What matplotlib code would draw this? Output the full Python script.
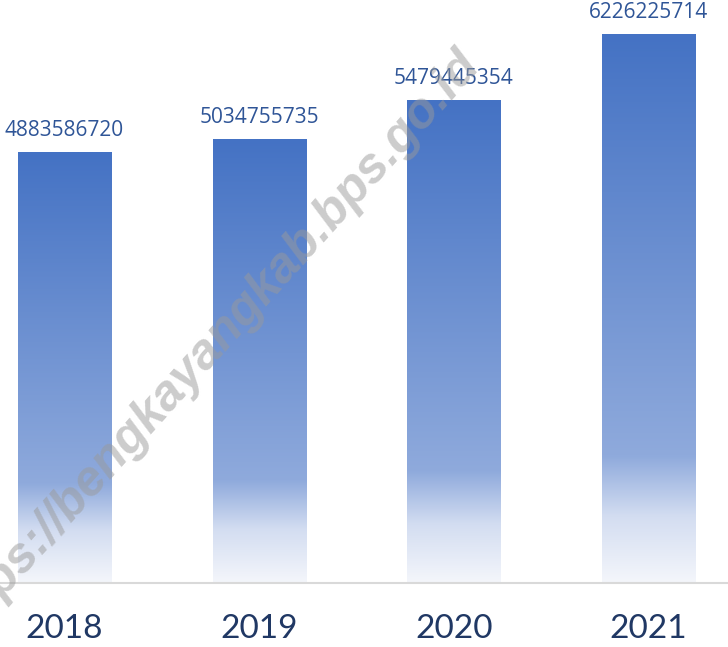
import numpy as np
import matplotlib as mpl
import matplotlib.pyplot as plt
from matplotlib.colors import LinearSegmentedColormap

# chart data
years  = ["2018", "2019", "2020", "2021"]
values = [4883586720, 5034755735, 5479445354, 6226225714]
labels = ["4883586720", "5034755735", "5479445354", "6226225714"]
mark   = "https://bengkayangkab.bps.go.id"

# gradient fill, bottom -> top
grad = LinearSegmentedColormap.from_list("bar", [(0.0, "#F4F6FB"), (0.12, "#D3DDF1"), (0.23, "#8FAADC"), (1.0, "#4472C4")])

fig = plt.figure(figsize=(7.28, 6.47), dpi=100)
ax  = fig.add_axes([0, 64/647, 1, 583/647])

x     = np.arange(len(years))
width = 0.478
bars  = ax.bar(x, values, width=width, color="none", edgecolor="none", zorder=2)

ramp = np.linspace(0, 1, 256).reshape(-1, 1)
for b in bars:
	x0 = b.get_x()
	h  = b.get_height()
	im = ax.imshow(ramp, extent=[x0, x0 + b.get_width(), 0, h], origin="lower",
	               aspect="auto", cmap=grad, zorder=2, interpolation="bilinear")
	im.set_clip_path(b)

# watermark (under the value labels)
fig.text(211/728, 1 - 348/647, mark, rotation=48, ha="center", va="center", rotation_mode="anchor",
         fontsize=36, fontweight="bold", style="italic", color="#9A9A9A", alpha=0.5,
         family=["Liberation Sans", "DejaVu Sans"], zorder=3)

for xi, v, s in zip(x, values, labels):
	ax.annotate(s, (xi, v), xytext=(0, 8), textcoords="offset points", ha="center", va="bottom",
	            fontsize=15, color="#2F5597", family=["Open Sans", "DejaVu Sans"], zorder=5)

ax.set_xlim(-64.5/194.7, -64.5/194.7 + 728/194.7)
ax.set_ylim(0, 583/8.8176e-8)
ax.set_xticks(x)
ax.set_xticklabels(years, fontsize=24, color="#203864", family=["Lato", "DejaVu Sans"])
ax.tick_params(axis="x", length=0, pad=22)
ax.set_yticks([])
for sp in ["top", "left", "right"]:
	ax.spines[sp].set_visible(False)
ax.spines["bottom"].set_color("#D9D9D9")
ax.spines["bottom"].set_linewidth(1.5)

fig.savefig("out.png", dpi=100)
